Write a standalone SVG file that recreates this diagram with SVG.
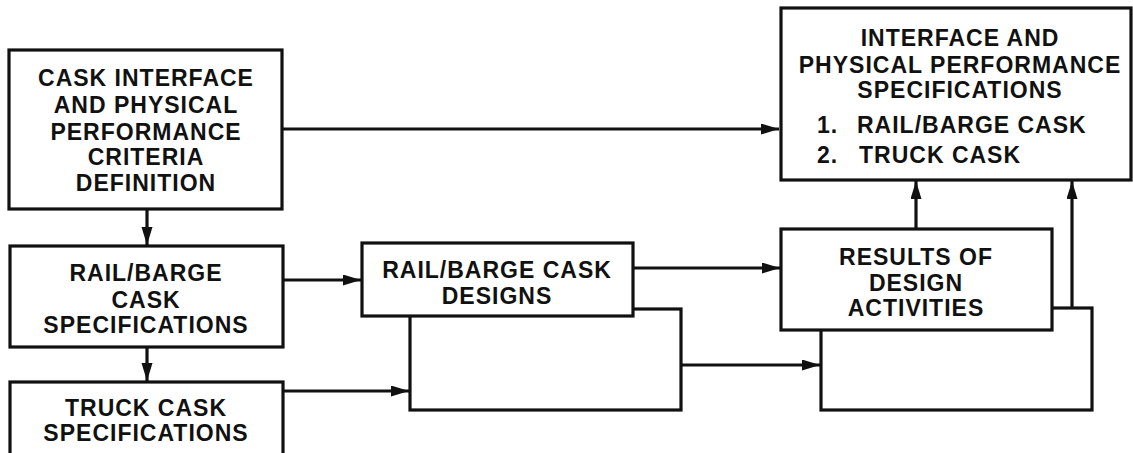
<svg xmlns="http://www.w3.org/2000/svg" width="1133" height="453" viewBox="0 0 1133 453">
<style>
.box{fill:#fff;stroke:#111;stroke-width:3.2}
.t{font-family:"Liberation Sans",Arial,sans-serif;font-weight:bold;font-size:23px;letter-spacing:1px;fill:#111}
.c{text-anchor:middle}
.ln{stroke:#111;stroke-width:3.2;fill:none}
</style>
<defs>
<marker id="ah" markerUnits="userSpaceOnUse" markerWidth="20" markerHeight="12" refX="18" refY="5.5" orient="auto">
<path d="M0,0 L18,5.5 L0,11 z" fill="#111"/>
</marker>
</defs>
<rect width="1133" height="453" fill="#fff"/>
<g id="connectors">
<line class="ln" x1="283" y1="129" x2="779" y2="129" marker-end="url(#ah)"/>
<line class="ln" x1="147" y1="209" x2="147" y2="245" marker-end="url(#ah)"/>
<line class="ln" x1="147" y1="347" x2="147" y2="381" marker-end="url(#ah)"/>
<line class="ln" x1="283" y1="280" x2="361" y2="280" marker-end="url(#ah)"/>
<line class="ln" x1="283" y1="391" x2="409" y2="391" marker-end="url(#ah)"/>
<line class="ln" x1="633" y1="268" x2="780" y2="268" marker-end="url(#ah)"/>
<line class="ln" x1="681" y1="365" x2="820" y2="365" marker-end="url(#ah)"/>
<line class="ln" x1="916" y1="229" x2="916" y2="181" marker-end="url(#ah)"/>
<line class="ln" x1="1072" y1="308" x2="1072" y2="181" marker-end="url(#ah)"/>
</g>
<g id="criteria">
<rect class="box" x="9" y="50" width="273" height="159"/>
<text class="t c" x="146" y="86">CASK INTERFACE</text>
<text class="t c" x="146" y="113">AND PHYSICAL</text>
<text class="t c" x="146" y="140">PERFORMANCE</text>
<text class="t c" x="146" y="165">CRITERIA</text>
<text class="t c" x="146" y="191">DEFINITION</text>
</g>
<g id="railspec">
<rect class="box" x="10" y="246" width="273" height="101"/>
<text class="t c" x="146" y="281">RAIL/BARGE</text>
<text class="t c" x="146" y="308">CASK</text>
<text class="t c" x="146" y="333">SPECIFICATIONS</text>
</g>
<g id="truckspec">
<rect class="box" x="10" y="382" width="273" height="80"/>
<text class="t c" x="146" y="416">TRUCK CASK</text>
<text class="t c" x="146" y="441">SPECIFICATIONS</text>
</g>
<g id="designs">
<rect class="box" x="410" y="309" width="271" height="101"/>
<rect class="box" x="362" y="243" width="271" height="73"/>
<text class="t c" x="497" y="278">RAIL/BARGE CASK</text>
<text class="t c" x="497" y="304">DESIGNS</text>
</g>
<g id="results">
<rect class="box" x="821" y="308" width="271" height="102"/>
<rect class="box" x="781" y="229" width="271" height="101"/>
<text class="t c" x="916" y="265">RESULTS OF</text>
<text class="t c" x="916" y="291">DESIGN</text>
<text class="t c" x="916" y="316">ACTIVITIES</text>
</g>
<g id="specs">
<rect class="box" x="781" y="8" width="350" height="172"/>
<text class="t c" x="960" y="46">INTERFACE AND</text>
<text class="t c" x="960" y="73">PHYSICAL PERFORMANCE</text>
<text class="t c" x="960" y="98">SPECIFICATIONS</text>
<text class="t" x="817" y="133">1.</text>
<text class="t" x="857" y="133">RAIL/BARGE CASK</text>
<text class="t" x="817" y="163">2.</text>
<text class="t" x="859" y="163">TRUCK CASK</text>
</g>
</svg>
